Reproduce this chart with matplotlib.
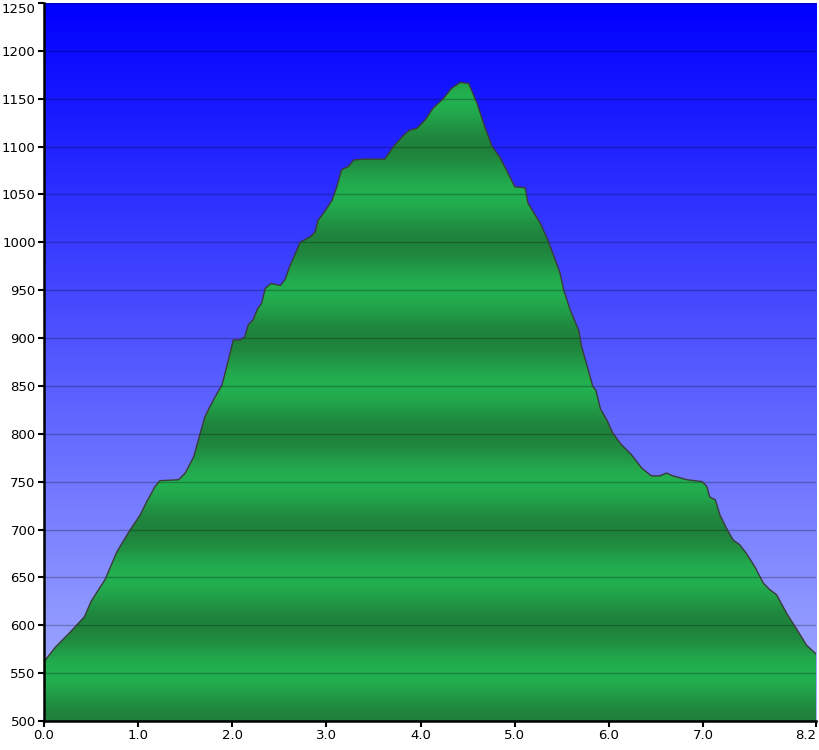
import matplotlib

matplotlib.use("Agg")

import matplotlib.pyplot as plt
import numpy as np
from matplotlib.patches import Polygon

# elevation profile
distance_km = [
    0.00, 0.12, 0.28, 0.43, 0.50, 0.65, 0.77, 0.91, 1.02, 1.09, 1.18, 1.23,
    1.43, 1.50, 1.59, 1.66, 1.71, 1.76, 1.82, 1.89, 1.94, 2.01, 2.08, 2.13,
    2.17, 2.22, 2.27, 2.31, 2.35, 2.41, 2.51, 2.56, 2.61, 2.65, 2.72, 2.83,
    2.88, 2.91, 2.98, 3.06, 3.11, 3.16, 3.23, 3.29, 3.39, 3.62, 3.71, 3.82,
    3.88, 3.96, 4.05, 4.13, 4.24, 4.33, 4.42, 4.51, 4.60, 4.68, 4.76, 4.84,
    4.91, 5.00, 5.11, 5.14, 5.22, 5.27, 5.34, 5.41, 5.48, 5.52, 5.59, 5.68,
    5.71, 5.76, 5.83, 5.86, 5.91, 5.98, 6.04, 6.12, 6.24, 6.35, 6.45, 6.54,
    6.61, 6.68, 6.83, 6.99, 7.04, 7.07, 7.13, 7.18, 7.25, 7.32, 7.39, 7.46,
    7.55, 7.64, 7.71, 7.78, 7.89, 8.00, 8.10, 8.20,
]
elevation_m = [
    562, 577, 593, 609, 625, 648, 676, 699, 715, 729, 745, 751,
    752, 759, 776, 801, 818, 828, 839, 851, 870, 898, 898, 901,
    914, 919, 931, 936, 952, 957, 955, 961, 975, 984, 1000, 1006,
    1011, 1023, 1032, 1044, 1058, 1076, 1079, 1086, 1087, 1087, 1100, 1112,
    1117, 1119, 1128, 1140, 1150, 1161, 1167, 1166, 1145, 1121, 1100, 1089,
    1076, 1058, 1057, 1041, 1028, 1020, 1005, 987, 968, 950, 929, 908,
    891, 874, 849, 846, 826, 814, 801, 790, 778, 764, 756, 756,
    759, 756, 752, 750, 745, 734, 731, 715, 701, 689, 684, 675,
    661, 644, 637, 632, 612, 595, 579, 570,
]
x_ticks = [0.0, 1.0, 2.0, 3.0, 4.0, 5.0, 6.0, 7.0, 8.2]
y_ticks = list(range(500, 1251, 50))

X_MIN, X_MAX = 0.0, 8.2
Y_MIN, Y_MAX = 500, 1250

fig = plt.figure(figsize=(8.2, 7.5), dpi=100)
ax = fig.add_axes([0.0537, 0.0387, 0.9415, 0.9573])

# sky: vertical gradient from pure blue to pale lavender
rows = np.linspace(0.0, 1.0, 400)[:, None]
top = np.array([0, 0, 255]) / 255
bottom = np.array([168, 178, 255]) / 255
sky = top[None, None, :] + (bottom - top)[None, None, :] * rows[:, :, None]
ax.imshow(sky, extent=(X_MIN, X_MAX, Y_MIN, Y_MAX), aspect="auto",
          origin="upper", interpolation="bilinear", zorder=0)

# ground: green banded gradient, darker at every 100 m
y_grid = np.linspace(Y_MAX, Y_MIN, 800)
phase = 0.5 - 0.5 * np.cos(2 * np.pi * (y_grid - 500) / 100.0)
dark = np.array([31, 130, 60]) / 255
light = np.array([35, 176, 80]) / 255
ground = dark[None, :] + (light - dark)[None, :] * phase[:, None]
ground = np.repeat(ground[:, None, :], 2, axis=1)
im = ax.imshow(ground, extent=(X_MIN, X_MAX, Y_MIN, Y_MAX), aspect="auto",
               origin="upper", interpolation="bilinear", zorder=0.5)

verts = ([(distance_km[0], Y_MIN)] + list(zip(distance_km, elevation_m))
         + [(distance_km[-1], Y_MIN)])
clip = Polygon(verts, closed=True, transform=ax.transData,
               facecolor="none", edgecolor="none")
ax.add_patch(clip)
im.set_clip_path(clip)

ax.plot(distance_km, elevation_m, color="#3b3b3b", linewidth=1.0, zorder=2)

ax.set_xlim(X_MIN, X_MAX)
ax.set_ylim(Y_MIN, Y_MAX)
ax.set_xticks(x_ticks)
ax.set_xticklabels([f"{t:.1f}" for t in x_ticks])
ax.set_yticks(y_ticks)
ax.grid(axis="y", color="black", alpha=0.25, linewidth=1.0)
ax.tick_params(direction="out", length=4, width=1.5, colors="black",
               labelsize=9.5, pad=2)

# keep the end labels inside the figure, as in the reference
ax.get_xticklabels()[-1].set_horizontalalignment("right")
ax.get_yticklabels()[-1].set_verticalalignment("top")

for side in ("top", "right"):
    ax.spines[side].set_visible(False)
for side in ("left", "bottom"):
    ax.spines[side].set_linewidth(1.8)
    ax.spines[side].set_zorder(3)

fig.savefig("out.png", dpi=100)
